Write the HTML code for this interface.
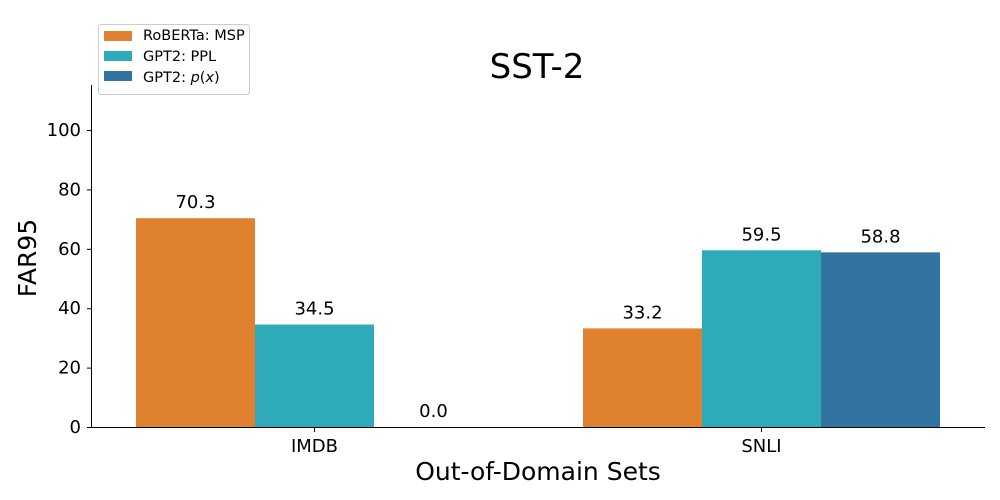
<!DOCTYPE html>
<html><head><meta charset="utf-8"><style>body{margin:0;background:#fff}svg{display:block;font-family:"DejaVu Sans","Liberation Sans",sans-serif}</style></head>
<body>
<svg id="c" width="1000" height="500">
<text x="537" y="78" font-size="34" text-anchor="middle">SST-2</text>
<g id="plot"></g>
<text x="538" y="480" font-size="25" text-anchor="middle">Out-of-Domain Sets</text>
<text transform="translate(36,258) rotate(-90)" font-size="25" text-anchor="middle">FAR95</text>
<g>
<rect x="98.5" y="24.5" width="151" height="70" rx="3" fill="#fff" stroke="#ccc"/>
<rect x="104" y="31" width="28" height="10" fill="#e08130"/>
<text x="143" y="40" font-size="14.5">RoBERTa: MSP</text>
<rect x="104" y="51" width="28" height="10" fill="#2eaab8"/>
<text x="143" y="61" font-size="14.5">GPT2: PPL</text>
<rect x="104" y="71" width="28" height="10" fill="#3274a1"/>
<text x="143" y="82" font-size="14.5">GPT2: <tspan font-style="italic">p</tspan>(<tspan font-style="italic">x</tspan>)</text>
</g>
</svg>
<script>
const categories=["IMDB","SNLI"];
const seriesNames=["RoBERTa: MSP","GPT2: PPL","GPT2: p(x)"];
const roberta=[70.3,33.2];
const ppl=[34.5,59.5];
const px=[0.0,58.8];
const yTicks=[0,20,40,60,80,100];
const colors=["#e08130","#2eaab8","#3274a1"];
const NS="http://www.w3.org/2000/svg";
const g=document.getElementById("plot");
const x0=91,x1=985,yTop=85;
const y=v=>427-v*2.97;
const groupCenter=i=>314.5+i*447;
const bw=119;
function el(t,a,p){const e=document.createElementNS(NS,t);for(const k in a)e.setAttribute(k,a[k]);(p||g).appendChild(e);return e;}
const series=[roberta,ppl,px];
series.forEach((s,si)=>{s.forEach((v,ci)=>{
 const bx=groupCenter(ci)+(si-1.5)*bw;
 const r=el("rect",{x:bx,y:y(v),width:bw,height:y(0)-y(v),fill:colors[si]});
 
 
 const t=el("text",{x:bx+bw/2,y:y(v)-10,"font-size":18,"text-anchor":"middle"});
 t.textContent=v.toFixed(1);
 
 
});});
const ax=el("path",{d:`M${x0+.5},${yTop}V427.5H${x1}`,stroke:"#000",fill:"none","stroke-width":1});


yTicks.forEach(v=>{
 const tk=el("line",{x1:x0-4,x2:x0,y1:y(v)+.5,y2:y(v)+.5,stroke:"#000"});
 
 
 const t=el("text",{x:x0-10,y:y(v)+6,"font-size":18,"text-anchor":"end"});
 t.textContent=v;
 
 
});
categories.forEach((c,i)=>{
 const cx=groupCenter(i);
 const tk=el("line",{x1:cx,x2:cx,y1:427,y2:432,stroke:"#000"});
 
 
 const t=el("text",{x:cx,y:452,"font-size":18,"text-anchor":"middle"});
 t.textContent=c;
 
 
});
</script>
</body></html>
